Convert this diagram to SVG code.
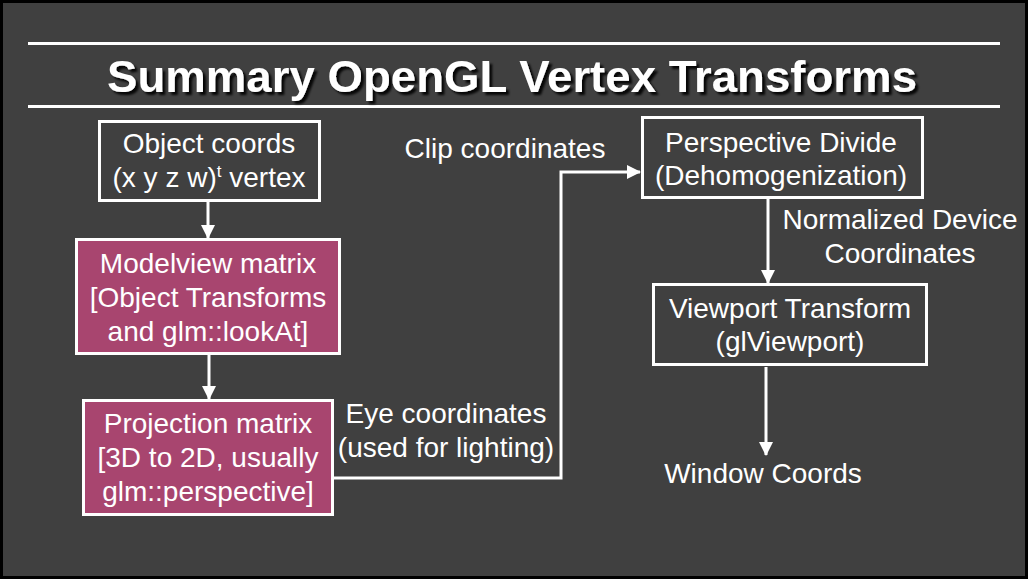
<svg xmlns="http://www.w3.org/2000/svg" width="1028" height="579" viewBox="0 0 1028 579">
<defs>
<style>
.t{font-family:"Liberation Sans",Arial,sans-serif;font-size:28px;fill:#ffffff;text-anchor:middle}
.box{stroke:#ffffff;stroke-width:3}
.dk{fill:#404040}
.mg{fill:#A8456F}
.ln{stroke:#ffffff;stroke-width:3;fill:none}
.title{font-family:"Liberation Sans",Arial,sans-serif;font-size:45px;font-weight:bold;text-anchor:middle;fill:#ffffff}
</style>
<filter id="sh" x="-5%" y="-30%" width="110%" height="160%">
<feGaussianBlur in="SourceAlpha" stdDeviation="1.2" result="b"/>
<feOffset in="b" dx="3" dy="3" result="o"/>
<feFlood flood-color="#000000" flood-opacity="0.9"/>
<feComposite in2="o" operator="in" result="s"/>
<feMerge><feMergeNode in="s"/><feMergeNode in="SourceGraphic"/></feMerge>
</filter>
<marker id="ah" markerWidth="14" markerHeight="16" refX="13" refY="7" orient="auto" markerUnits="userSpaceOnUse" viewBox="0 0 14 14">
<path d="M0,0 L14,7 L0,14 Z" fill="#ffffff"/>
</marker>
</defs>
<rect x="0" y="0" width="1028" height="579" fill="#000000"/>
<rect x="3" y="3" width="1022" height="573" fill="#404040"/>
<g id="header">
<line x1="28" y1="43.5" x2="1000" y2="43.5" stroke="#ffffff" stroke-width="3"/>
<line x1="28" y1="106.5" x2="1000" y2="106.5" stroke="#ffffff" stroke-width="3"/>
<text class="title" x="512" y="92" filter="url(#sh)" textLength="810" lengthAdjust="spacingAndGlyphs">Summary OpenGL Vertex Transforms</text>
</g>
<g id="connectors">
<line class="ln" x1="208" y1="201" x2="208" y2="238" marker-end="url(#ah)"/>
<line class="ln" x1="209" y1="354" x2="209" y2="399" marker-end="url(#ah)"/>
<polyline class="ln" points="333,478 561,478 561,172 640,172" marker-end="url(#ah)"/>
<line class="ln" x1="768" y1="198" x2="768" y2="283" marker-end="url(#ah)"/>
<line class="ln" x1="766" y1="367" x2="766" y2="455" marker-end="url(#ah)"/>
</g>
<g id="object-coords">
<rect class="box dk" x="99.5" y="121.5" width="220" height="79"/>
<text class="t" x="209" y="153">Object coords</text>
<text class="t" x="209" y="187">(x y z w)<tspan dy="-10" font-size="17">t</tspan><tspan dy="10"> vertex</tspan></text>
</g>
<g id="modelview">
<rect class="box mg" x="76.5" y="239.5" width="263" height="114"/>
<text class="t" x="208" y="273">Modelview matrix</text>
<text class="t" x="208" y="307">[Object Transforms</text>
<text class="t" x="208" y="341">and glm::lookAt]</text>
</g>
<g id="projection">
<rect class="box mg" x="83.5" y="400.5" width="249" height="114"/>
<text class="t" x="208" y="433">Projection matrix</text>
<text class="t" x="208" y="467">[3D to 2D, usually</text>
<text class="t" x="208" y="501">glm::perspective]</text>
</g>
<g id="eye-label">
<text class="t" x="446" y="423">Eye coordinates</text>
<text class="t" x="446" y="457">(used for lighting)</text>
</g>
<g id="clip-label">
<text class="t" x="505" y="158">Clip coordinates</text>
</g>
<g id="perspective">
<rect class="box dk" x="642.5" y="117.5" width="280" height="80"/>
<text class="t" x="781" y="152">Perspective Divide</text>
<text class="t" x="781" y="185">(Dehomogenization)</text>
</g>
<g id="ndc-label">
<text class="t" x="900" y="229">Normalized Device</text>
<text class="t" x="900" y="263">Coordinates</text>
</g>
<g id="viewport">
<rect class="box dk" x="653.5" y="284.5" width="273" height="80"/>
<text class="t" x="790" y="318">Viewport Transform</text>
<text class="t" x="790" y="351">(glViewport)</text>
</g>
<g id="window-coords">
<text class="t" x="763" y="483">Window Coords</text>
</g>
</svg>
